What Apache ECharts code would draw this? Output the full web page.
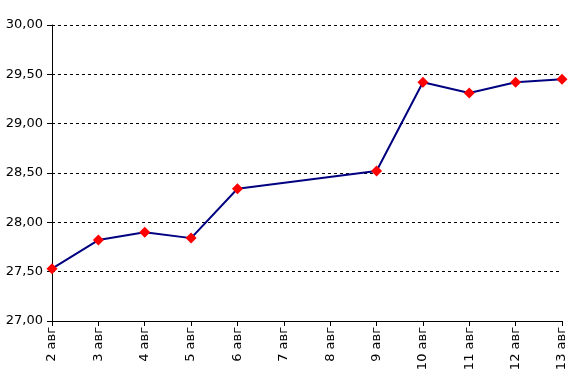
<!DOCTYPE html>
<html><head><meta charset="utf-8">
<script src="https://cdn.jsdelivr.net/npm/echarts@6/dist/echarts.min.js"></script>
<style>html,body{margin:0;padding:0;background:#fff}#c{width:586px;height:390px}</style>
</head><body><div id="c"></div>
<script>
const categories = ['2 авг','3 авг','4 авг','5 авг','6 авг','7 авг','8 авг','9 авг','10 авг','11 авг','12 авг','13 авг'];
const values = [27.53, 27.82, 27.90, 27.84, 28.34, null, null, 28.52, 29.42, 29.31, 29.42, 29.45];
const yMin = 27, yMax = 30, yStep = 0.5;

const chart = echarts.init(document.getElementById('c'), null, {renderer:'canvas'});
const font = 'DejaVu Sans';
chart.setOption({
  animation:false,
  grid:{left:52, right:24, top:25, bottom:69, containLabel:false},
  xAxis:{
    type:'category', data:categories, boundaryGap:false,
    axisLine:{lineStyle:{color:'#000', width:1}},
    axisTick:{show:true, length:5, lineStyle:{color:'#000'}},
    axisLabel:{rotate:90, color:'#000', fontFamily:font, fontSize:13, margin:6, interval:0},
    splitLine:{show:false}
  },
  yAxis:{
    type:'value', min:yMin, max:yMax, interval:yStep,
    axisLine:{show:true, lineStyle:{color:'#000', width:1}},
    axisTick:{show:true, length:5, lineStyle:{color:'#000'}},
    axisLabel:{color:'#000', fontFamily:font, fontSize:13, margin:9,
      formatter:v=>v.toFixed(2).replace('.', ',')},
    splitLine:{show:true, lineStyle:{color:'#000', type:[3,3], width:1}}
  },
  series:[{
    type:'line', data:values, connectNulls:true,
    lineStyle:{color:'#000080', width:2},
    symbol:'diamond', symbolSize:11,
    itemStyle:{color:'#ff0000', borderWidth:0},
    z:3
  }]
});
</script></body></html>
